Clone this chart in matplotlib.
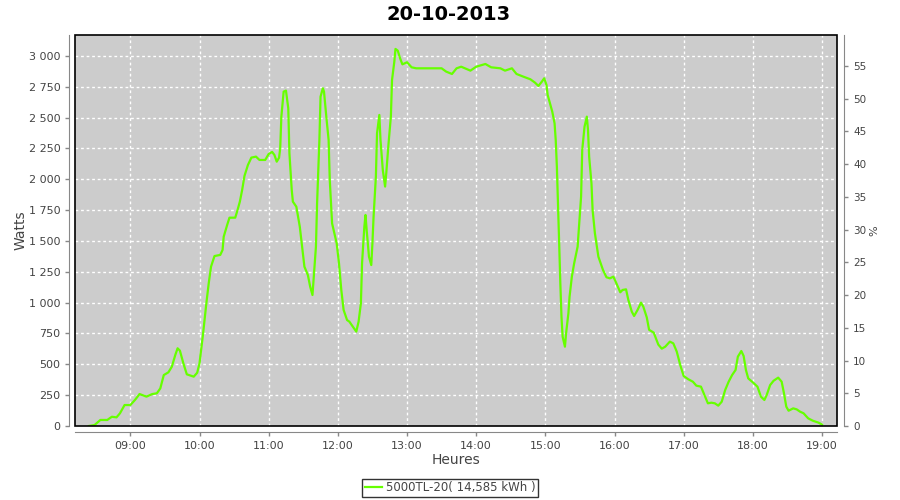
import matplotlib.pyplot as plt
from matplotlib.patches import Rectangle
from matplotlib.ticker import FuncFormatter

# relevé onduleur du 20-10-2013 (heure, puissance en W)
times = ['08:24', '08:29', '08:34', '08:40', '08:44', '08:48', '08:51', '08:55',
         '09:00', '09:04', '09:08', '09:14', '09:19', '09:23', '09:26', '09:29',
         '09:33', '09:36', '09:39', '09:41', '09:43', '09:46', '09:49', '09:55',
         '09:58', '10:00', '10:03', '10:06', '10:08', '10:10', '10:13', '10:18',
         '10:20', '10:21', '10:24', '10:26', '10:31', '10:33', '10:35', '10:37',
         '10:39', '10:42', '10:45', '10:49', '10:52', '10:57', '11:00', '11:03',
         '11:05', '11:07', '11:09', '11:10', '11:11', '11:13', '11:15', '11:17',
         '11:18', '11:20', '11:21', '11:24', '11:27', '11:29', '11:31', '11:34',
         '11:36', '11:38', '11:39', '11:41', '11:42', '11:44', '11:45', '11:47',
         '11:48', '11:50', '11:52', '11:53', '11:55', '11:57', '11:59', '12:01',
         '12:03', '12:05', '12:08', '12:10', '12:13', '12:16', '12:18', '12:20',
         '12:21', '12:23', '12:24', '12:25', '12:27', '12:29', '12:30', '12:31',
         '12:33', '12:34', '12:36', '12:37', '12:39', '12:41', '12:42', '12:44',
         '12:46', '12:47', '12:49', '12:50', '12:52', '12:54', '12:56', '13:00',
         '13:04', '13:08', '13:30', '13:34', '13:39', '13:43', '13:47', '13:55',
         '14:00', '14:08', '14:13', '14:21', '14:25', '14:31', '14:35', '14:41',
         '14:47', '14:51', '14:54', '14:57', '14:59', '15:01', '15:02', '15:04',
         '15:06', '15:08', '15:09', '15:10', '15:11', '15:12', '15:13', '15:14',
         '15:15', '15:17', '15:18', '15:20', '15:21', '15:23', '15:25', '15:28',
         '15:29', '15:31', '15:32', '15:34', '15:36', '15:37', '15:38', '15:40',
         '15:41', '15:43', '15:46', '15:48', '15:50', '15:53', '15:56', '15:59',
         '16:01', '16:05', '16:07', '16:10', '16:12', '16:15', '16:17', '16:20',
         '16:23', '16:25', '16:28', '16:30', '16:34', '16:38', '16:41', '16:44',
         '16:48', '16:51', '16:54', '16:57', '17:00', '17:04', '17:08', '17:11',
         '17:15', '17:18', '17:21', '17:24', '17:27', '17:30', '17:33', '17:36',
         '17:39', '17:42', '17:45', '17:47', '17:50', '17:52', '17:54', '17:56',
         '18:00', '18:04', '18:07', '18:10', '18:12', '18:15', '18:18', '18:22',
         '18:25', '18:27', '18:29', '18:31', '18:35', '18:38', '18:41', '18:44',
         '18:48', '18:52', '18:57', '19:00']
watts = [0, 8, 49, 49, 75, 70, 103, 170,
         170, 211, 259, 238, 259, 265, 305, 413,
         435, 481, 576, 630, 611, 508, 419, 400,
         432, 508, 740, 1000, 1157, 1292, 1378, 1387,
         1427, 1535, 1630, 1689, 1689, 1751, 1819, 1914,
         2027, 2116, 2176, 2184, 2157, 2157, 2205, 2222,
         2197, 2143, 2175, 2250, 2508, 2711, 2719, 2576,
         2211, 1914, 1819, 1778, 1616, 1454, 1292, 1224,
         1130, 1062, 1197, 1454, 1805, 2319, 2670, 2738,
         2711, 2508, 2319, 1995, 1643, 1562, 1481, 1319,
         1103, 941, 859, 846, 805, 765, 846, 995,
         1319, 1616, 1711, 1589, 1373, 1305, 1481, 1697,
         2022, 2373, 2522, 2319, 2076, 1941, 2049, 2292,
         2508, 2805, 2954, 3057, 3043, 2981, 2932, 2949,
         2908, 2900, 2900, 2873, 2854, 2900, 2913, 2881,
         2913, 2935, 2908, 2900, 2881, 2900, 2854, 2832,
         2811, 2784, 2757, 2792, 2819, 2765, 2684, 2616,
         2549, 2454, 2319, 2103, 1805, 1481, 1157, 886,
         724, 643, 752, 914, 1048, 1211, 1319, 1454,
         1589, 1859, 2238, 2427, 2508, 2400, 2184, 1968,
         1751, 1562, 1373, 1319, 1265, 1206, 1197, 1211,
         1170, 1084, 1103, 1108, 1022, 927, 892, 941,
         1000, 967, 880, 780, 757, 660, 627, 643,
         684, 670, 603, 495, 405, 379, 359, 327,
         319, 251, 184, 189, 184, 165, 197, 292,
         359, 413, 454, 562, 608, 568, 454, 386,
         354, 319, 238, 211, 251, 332, 367, 392,
         359, 265, 157, 124, 143, 135, 116, 103,
         62, 43, 27, 11]

hour_ticks = ['09:00', '10:00', '11:00', '12:00', '13:00', '14:00',
              '15:00', '16:00', '17:00', '18:00', '19:00']
watt_ticks = list(range(0, 3001, 250))
pct_ticks = list(range(0, 56, 5))
series_name = '5000TL-20( 14,585 kWh )'


def to_hours(t):
    h, m = t.split(':')
    return int(h) + int(m) / 60


hours = [to_hours(t) for t in times]

txt = '#444444'
axis_gray = '#888888'

fig = plt.figure(figsize=(9, 5), dpi=100)
ax = fig.add_axes([75 / 900, 74 / 500, 762 / 900, 391 / 500])
ax.set_facecolor('#cccccc')
ax.plot(hours, watts, color='#66ff00', lw=1.6, label=series_name, zorder=3)

ax.set_xlim(to_hours('08:12'), to_hours('19:13'))
ax.set_ylim(0, 3170)
ax.set_xticks([to_hours(t) for t in hour_ticks])
ax.set_xticklabels(hour_ticks)
ax.set_yticks(watt_ticks)
ax.yaxis.set_major_formatter(FuncFormatter(lambda v, p: f'{int(v):,}'.replace(',', ' ')))
ax.grid(True, color='white', linestyle=(0, (2, 2)), lw=1)
ax.set_axisbelow(True)

for s in ['top', 'right']:
    ax.spines[s].set_visible(False)
for s in ['left', 'bottom']:
    ax.spines[s].set_position(('outward', 4))
    ax.spines[s].set_color(axis_gray)
ax.tick_params(colors=axis_gray, labelcolor=txt, labelsize=8, length=3, width=1)

ax.add_patch(Rectangle((0, 0), 1, 1, transform=ax.transAxes, fill=False,
                       edgecolor='black', lw=1.2, clip_on=False, zorder=5))

ax2 = ax.twinx()
ax2.set_ylim(0, 59.7)
ax2.set_yticks(pct_ticks)
for s in ['top', 'left', 'bottom']:
    ax2.spines[s].set_visible(False)
ax2.spines['right'].set_position(('outward', 5))
ax2.spines['right'].set_color(axis_gray)
ax2.tick_params(colors=axis_gray, labelcolor=txt, labelsize=7.5, length=3, width=1)
ax2.set_ylabel('%', color=txt, fontsize=8)
ax2.yaxis.set_label_coords(1.043, 0.5)

ax.set_ylabel('Watts', color=txt, fontsize=10)
ax.yaxis.set_label_coords(-0.062, 0.5)
ax.set_xlabel('Heures', color=txt, fontsize=10)
ax.xaxis.set_label_coords(0.5, -0.068)

fig.suptitle('20-10-2013', x=449 / 900, y=1 - 5 / 500, va='top',
             fontsize=14, fontweight='bold', color='black')

leg = fig.legend(loc='center', bbox_to_anchor=(450 / 900, 1 - 488 / 500),
                 fontsize=8.5, handlelength=1.5, handletextpad=0.3,
                 borderpad=0.25, borderaxespad=0, fancybox=False)
leg.get_frame().set_edgecolor('black')
leg.get_frame().set_linewidth(1)
for t in leg.get_texts():
    t.set_color(txt)

fig.savefig('out.png', dpi=100)
